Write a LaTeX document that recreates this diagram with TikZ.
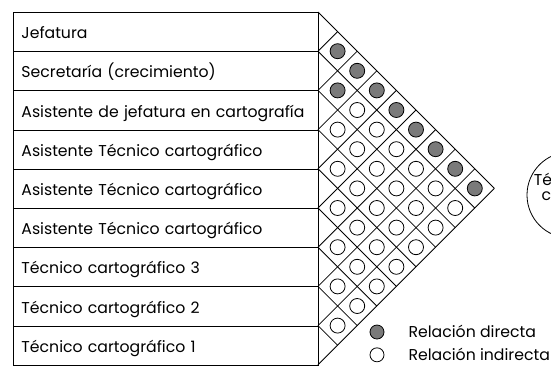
\documentclass[tikz,border=0pt]{standalone}
\usepackage{fontspec}
\setmainfont{Poppins}
\usetikzlibrary{positioning}
\definecolor{relgray}{HTML}{7A7A7A}

\begin{document}
\begin{tikzpicture}[
    x=19.6pt,y=-19.6pt,
    font=\fontsize{15.7}{18}\selectfont,
    rowbox/.style={draw,line width=0.9pt,anchor=north west,minimum height=39.2pt,
      text width=289pt,inner xsep=8pt,inner ysep=0pt,align=left,
      text height=13.2pt,text depth=0pt},
    diagline/.style={line width=0.8pt},
    direct/.style={circle,draw,line width=0.8pt,fill=relgray,minimum size=15pt,inner sep=0pt},
    indirect/.style={direct,fill=white},
    legtext/.style={inner sep=0pt,anchor=west,text height=11pt,text depth=0pt}
  ]
  \useasboundingbox (-16.2245,-0.6122) rectangle (11.8878,18.0102);
  % cargos
  \foreach \role [count=\k from 0] in {Jefatura,Secretaría (crecimiento),Asistente de jefatura en cartografía,Asistente Técnico cartográfico,Asistente Técnico cartográfico,Asistente Técnico cartográfico,Técnico cartográfico 3,Técnico cartográfico 2,Técnico cartográfico 1}
    \node[rowbox] (r\k) at (-15.561,2*\k) {\role};
  % rombos de la matriz
  \draw[diagline] (0,0) -- (0,18);
  \foreach \k in {0,...,9}{
    \draw[diagline] (0,2*\k) -- ++(9-\k,9-\k);
    \draw[diagline] (0,2*\k) -- ++(\k,-\k);
  }
  % relaciones
  \foreach \i in {0,...,7}{
    \pgfmathtruncatemacro\jmin{\i+1}
    \foreach \j in {\jmin,...,8}{
      \pgfmathtruncatemacro\isdir{(\i==0)||(\i==1&&\j==2)}
      \ifnum\isdir=1 \def\cellrel{direct}\else\def\cellrel{indirect}\fi
      \node[\cellrel] (c\i\j) at (\j-\i,\i+\j+1) {};
    }
  }
  % leyenda
  \node[direct,minimum size=14pt] (legd) at (3.010,16.327) {};
  \node[indirect,minimum size=14pt,below=8pt of legd] (legi) {};
  \node[legtext,right=24pt of legd] (legdtxt) {Relación directa};
  \node[legtext,right=24pt of legi] (legitxt) {Relación indirecta};
  % nodo cortado a la derecha
  \node[circle,draw,line width=0.8pt,minimum size=86pt] (tec) at (12.857,9.337) {};
  \node[anchor=base west,inner sep=0pt] (tec1) at (11.0,8.827) {Técnico};
  \node[anchor=base west,inner sep=0pt] (tec2) at (11.4,9.592) {cartográfico};
\end{tikzpicture}
\end{document}
